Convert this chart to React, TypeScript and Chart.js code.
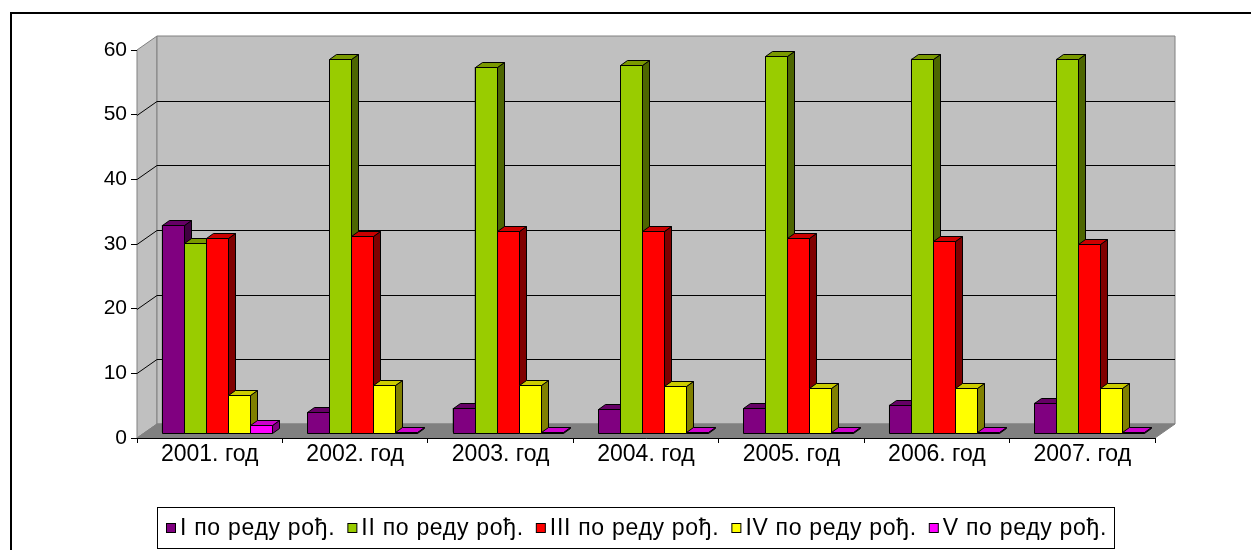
import React, { useEffect, useRef } from "react";
import { Chart, registerables } from "chart.js";

Chart.register(...registerables);

const categories = ["2001. год", "2002. год", "2003. год", "2004. год", "2005. год", "2006. год", "2007. год"];
const seriesLabels = ["I по реду рођ.", "II по реду рођ.", "III по реду рођ.", "IV по реду рођ.", "V по реду рођ."];
const firstOrder = [32.2, 3.3, 3.9, 3.7, 3.9, 4.4, 4.7];
const secondOrder = [29.4, 57.8, 56.6, 56.9, 58.3, 57.9, 57.9];
const thirdOrder = [30.2, 30.5, 31.3, 31.3, 30.2, 29.7, 29.3];
const fourthOrder = [5.9, 7.5, 7.4, 7.2, 6.9, 6.9, 6.9];
const fifthOrder = [1.3, 0.2, 0.2, 0.1, 0.2, 0.2, 0.2];
const yMin = 0;
const yMax = 60;
const yStep = 10;

const frontColors = ["#800080", "#99CC00", "#FF0000", "#FFFF00", "#FF00FF"];
const topColors = ["#660066", "#7A9900", "#CC0000", "#CCCC00", "#CC00CC"];
const sideColors = ["#400040", "#4D6600", "#800000", "#808000", "#800080"];

const FONT = '"Liberation Sans", Arial, sans-serif';
// wall depth, bar plane offset, bar depth
const DX = 20, DY = -14;
const BX = 7, BY = -5;
const BDX = 7, BDY = -5;

function poly(ctx: CanvasRenderingContext2D, pts: number[][], fill: string, stroke: string) {
  ctx.beginPath();
  ctx.moveTo(pts[0][0], pts[0][1]);
  for (let i = 1; i < pts.length; i++) ctx.lineTo(pts[i][0], pts[i][1]);
  ctx.closePath();
  ctx.fillStyle = fill;
  ctx.fill();
  ctx.strokeStyle = stroke;
  ctx.lineWidth = 1;
  ctx.stroke();
}

const threeD = {
  id: "threeD",
  beforeDraw(chart: any) {
    const { ctx, chartArea: a, scales } = chart;
    const y = scales.y;
    const y0 = y.getPixelForValue(yMin);
    const yT = y.getPixelForValue(yMax);
    ctx.save();
    ctx.fillStyle = "#fff";
    ctx.fillRect(0, 0, chart.width, chart.height);
    // outer frame
    ctx.strokeStyle = "#000";
    ctx.lineWidth = 2;
    ctx.strokeRect(11, 13, chart.width + 20, chart.height + 20);
    // side wall
    poly(ctx, [[a.left, y0], [a.left, yT], [a.left + DX, yT + DY], [a.left + DX, y0 + DY]], "#C0C0C0", "#808080");
    // back wall
    poly(ctx, [[a.left + DX, yT + DY], [a.right + DX, yT + DY], [a.right + DX, y0 + DY], [a.left + DX, y0 + DY]], "#C0C0C0", "#808080");
    // floor
    poly(ctx, [[a.left, y0], [a.right, y0], [a.right + DX, y0 + DY], [a.left + DX, y0 + DY]], "#808080", "#808080");
    // gridlines
    ctx.strokeStyle = "#000";
    ctx.lineWidth = 1;
    y.ticks.forEach((t: any) => {
      if (t.value <= yMin || t.value >= yMax) return;
      const py = Math.round(y.getPixelForValue(t.value)) + 0.5;
      ctx.beginPath();
      ctx.moveTo(a.left, py);
      ctx.lineTo(a.left + DX, py + DY);
      ctx.lineTo(a.right + DX, py + DY);
      ctx.stroke();
    });
    ctx.restore();
  },
  beforeDatasetsDraw(chart: any) {
    chart.ctx.save();
    chart.ctx.translate(BX, BY);
  },
  afterDatasetsDraw(chart: any) {
    const ctx = chart.ctx;
    ctx.restore();
    ctx.save();
    const n = chart.data.datasets.length;
    for (let j = 0; j < categories.length; j++) {
      for (let i = 0; i < n; i++) {
        const el = chart.getDatasetMeta(i).data[j];
        const p = el.getProps(["x", "y", "base", "width"], true);
        const l = Math.round(p.x - p.width / 2 + BX) + 0.5;
        const r = Math.round(p.x + p.width / 2 + BX) + 0.5;
        const t = Math.round(p.y + BY) + 0.5;
        const b = Math.round(p.base + BY) + 0.5;
        poly(ctx, [[r, t], [r + BDX, t + BDY], [r + BDX, b + BDY], [r, b]], sideColors[i], "#000");
        poly(ctx, [[l, t], [r, t], [r + BDX, t + BDY], [l + BDX, t + BDY]], topColors[i], "#000");
        poly(ctx, [[l, t], [r, t], [r, b], [l, b]], frontColors[i], "#000");
      }
    }
    ctx.restore();
  },
  afterDraw(chart: any) {
    const ctx = chart.ctx;
    ctx.save();
    // legend box
    ctx.strokeStyle = "#000";
    ctx.lineWidth = 1;
    ctx.strokeRect(157.5, 507.5, 957, 41);
    ctx.font = `23px ${FONT}`;
    (ctx as any).letterSpacing = "0.7px";
    ctx.textBaseline = "middle";
    ctx.textAlign = "left";
    let x = 166;
    const cy = 528;
    chart.data.datasets.forEach((ds: any, i: number) => {
      ctx.fillStyle = frontColors[i];
      ctx.fillRect(x + 0.5, cy - 4.5, 9, 9);
      ctx.strokeStyle = "#000";
      ctx.strokeRect(x + 0.5, cy - 4.5, 9, 9);
      ctx.fillStyle = "#000";
      ctx.fillText(ds.label, x + 14, cy + 1);
      x += 14 + ctx.measureText(ds.label).width + 12;
    });
    ctx.restore();
  },
};

export default function App() {
  const ref = useRef<HTMLCanvasElement | null>(null);
  useEffect(() => {
    document.body.style.margin = "0";
    const canvas = ref.current!;
    const series = [firstOrder, secondOrder, thirdOrder, fourthOrder, fifthOrder];
    const chart = new Chart(canvas, {
      type: "bar",
      data: {
        labels: categories,
        datasets: series.map((d, i) => ({
          label: seriesLabels[i],
          data: d,
          backgroundColor: frontColors[i],
          borderColor: "#000",
          borderWidth: 1,
          barPercentage: 1,
          categoryPercentage: 0.757,
        })),
      },
      options: {
        responsive: false,
        animation: false,
        devicePixelRatio: 1,
        layout: { padding: { top: 50, right: 96, left: 0, bottom: 0 } },
        plugins: { legend: { display: false }, tooltip: { enabled: false }, title: { display: false } },
        scales: {
          x: {
            offset: true,
            grid: { display: true, drawOnChartArea: false, drawTicks: true, tickLength: 5, color: "#000", offset: true },
            border: { display: true, color: "#000" },
            ticks: { color: "#000", font: { family: FONT, size: 23, lineHeight: 1 }, padding: 0, maxRotation: 0 },
            afterFit: (s: any) => { s.height = 112; },
          },
          y: {
            min: yMin,
            max: yMax,
            grid: { display: true, drawOnChartArea: false, drawTicks: true, tickLength: 6, color: "#000" },
            border: { display: false },
            ticks: { stepSize: yStep, color: "#000", font: { family: FONT, size: 21 }, padding: 4 },
            afterFit: (s: any) => { s.width = 137; },
          },
        },
      },
      plugins: [threeD],
    });
    return () => chart.destroy();
  }, []);
  return <canvas ref={ref} width={1251} height={550} style={{ display: "block" }} />;
}
